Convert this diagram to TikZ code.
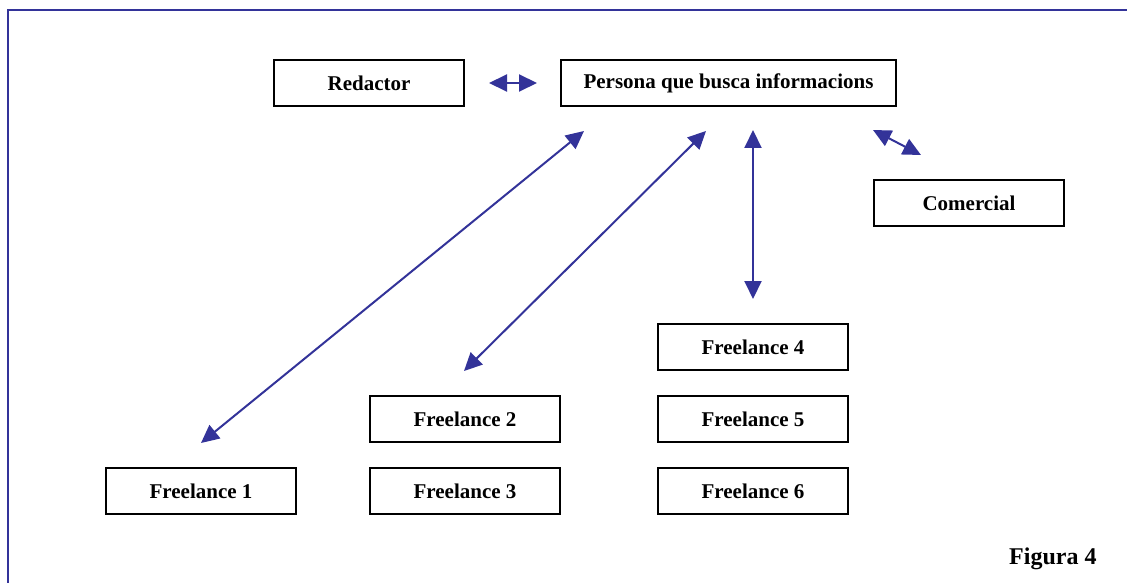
\documentclass[tikz,border=0pt]{standalone}
\usepackage{fontspec}
\setmainfont{Liberation Serif}
\usetikzlibrary{arrows.meta}
\definecolor{arrblue}{HTML}{333399}
\tikzset{
  box/.style={draw=black, line width=1.6pt, minimum width=190pt, minimum height=46pt, inner sep=0pt, font=\bfseries\fontsize{21}{25}\selectfont},
  link/.style={draw=arrblue, line width=2pt, {Triangle[length=18pt,width=17pt]}-{Triangle[length=18pt,width=17pt]}},
  frame/.style={draw=arrblue, line width=1.6pt}
}
\begin{document}
\begin{tikzpicture}[x=1pt,y=-1pt]
\useasboundingbox (0,0) rectangle (1127,583);
\draw[frame] (1127,10) -- (8,10) -- (8,583);
\node[box] (red) at (369,83) {Redactor};
\node[box, minimum width=335pt] (per) at (728.5,83) {Persona que busca informacions};
\node[box] (com) at (969,203) {Comercial};
\node[box] (f1) at (201,491) {Freelance 1};
\node[box] (f2) at (465,419) {Freelance 2};
\node[box] (f3) at (465,491) {Freelance 3};
\node[box] (f4) at (753,347) {Freelance 4};
\node[box] (f5) at (753,419) {Freelance 5};
\node[box] (f6) at (753,491) {Freelance 6};
\node[anchor=base west, inner sep=0pt, font=\bfseries\fontsize{24}{28}\selectfont] (fig) at (1009,564) {Figura 4};
\coordinate (a1) at (489,83);
\coordinate (a2) at (537,83);
\coordinate (b1) at (584,131);
\coordinate (b2) at (201,443);
\coordinate (c1) at (706,131);
\coordinate (c2) at (464,371);
\coordinate (d1) at (753,130);
\coordinate (d2) at (753,299);
\coordinate (e1) at (873,130);
\coordinate (e2) at (921,155);
\draw[link] (a1) -- (a2);
\draw[link] (b1) -- (b2);
\draw[link] (c1) -- (c2);
\draw[link] (d1) -- (d2);
\draw[link] (e1) -- (e2);
\end{tikzpicture}
\end{document}
